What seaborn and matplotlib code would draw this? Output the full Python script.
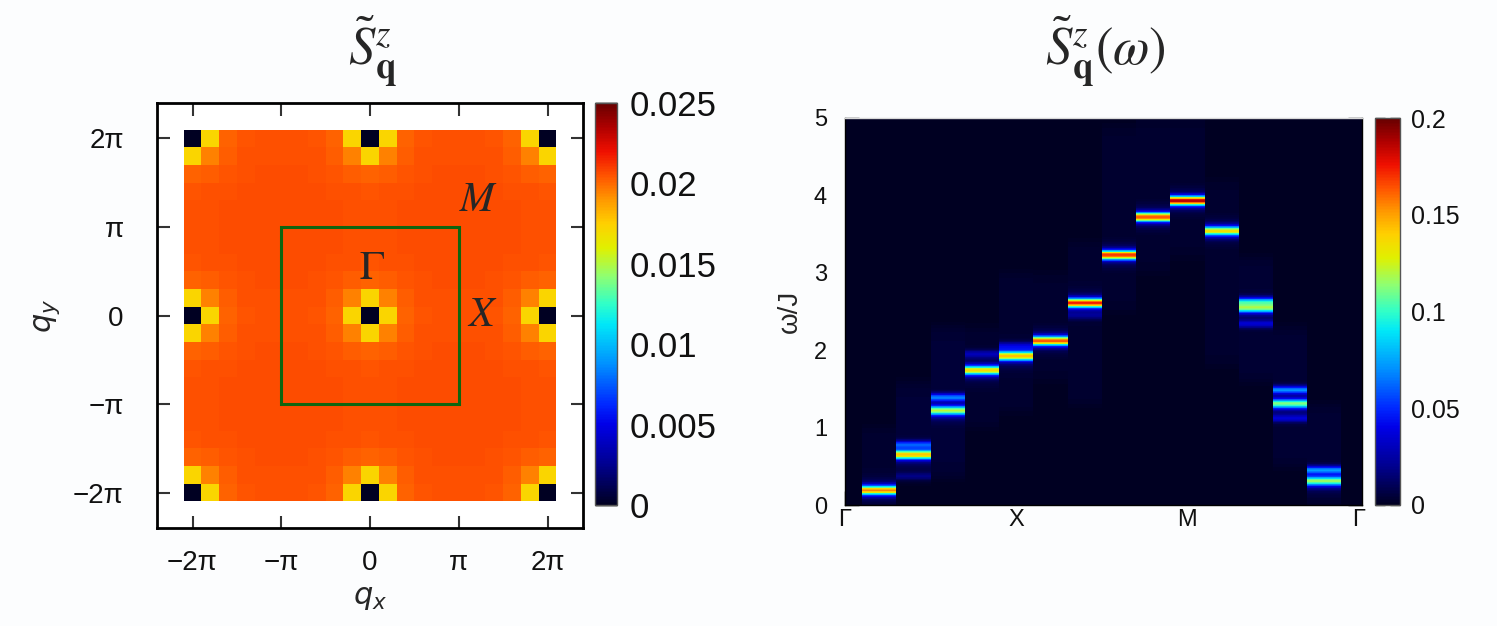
import numpy as np
import pandas as pd
import matplotlib
matplotlib.use("Agg")
import matplotlib.pyplot as plt
import seaborn as sns
from matplotlib.colors import LinearSegmentedColormap
from matplotlib.patches import Rectangle

sns.set_theme(style="white")
plt.rcParams["font.family"] = ["Liberation Sans", "DejaVu Sans"]
plt.rcParams["mathtext.fontset"] = "stix"

# ---------------- data: left panel (static structure factor) ----------------
# one irreducible quadrant (index = distance in units of pi/5 from nearest 2*pi*n point)
sq_quadrant = [
    [0.0,    0.0172, 0.0202, 0.0205, 0.0206, 0.0206],
    [0.0172, 0.0195, 0.0203, 0.0206, 0.0206, 0.0206],
    [0.0202, 0.0203, 0.0205, 0.0206, 0.0207, 0.0207],
    [0.0205, 0.0206, 0.0206, 0.0207, 0.0207, 0.0207],
    [0.0206, 0.0206, 0.0207, 0.0207, 0.0207, 0.0207],
    [0.0206, 0.0206, 0.0207, 0.0207, 0.0207, 0.0207],
]
q_cells = list(range(-10, 11))          # q = k*pi/5
q_tick_labels_x = ["\u22122\u03c0", "\u2212\u03c0", "0", "\u03c0", "2\u03c0"]
cbar_left_ticks = [0, 0.005, 0.01, 0.015, 0.02, 0.025]
cbar_left_labels = ["0", "0.005", "0.01", "0.015", "0.02", "0.025"]

# ---------------- data: right panel (dynamical structure factor) ----------------
path_index = list(range(16))
path_tick_index = [0, 5, 10, 15]
path_tick_labels = ["\u0393", "X", "M", "\u0393"]
main_q = list(range(1, 15))
main_omega = [0.19, 0.65, 1.22, 1.74, 1.925, 2.12, 2.61, 3.23, 3.72, 3.93, 3.54, 2.545, 1.31, 0.31]
main_weight = [0.135, 0.12, 0.10, 0.118, 0.122, 0.145, 0.153, 0.15, 0.145, 0.168, 0.115, 0.092, 0.09, 0.095]
sat_q = [2, 2, 3, 4, 5, 7, 12, 12, 13, 13, 14]
sat_omega = [0.78, 0.37, 1.39, 1.95, 2.05, 2.45, 2.63, 2.34, 1.486, 1.12, 0.452]
sat_weight = [0.05, 0.015, 0.06, 0.025, 0.03, 0.015, 0.07, 0.03, 0.065, 0.03, 0.065]
glow_lo = [0.0, 0.32, 0.36, 1.0, 1.2, 1.6, 1.3, 2.5, 3.0, 3.2, 1.8, 1.6, 0.5, 0.0]
glow_hi = [1.0, 1.58, 2.3, 2.3, 3.0, 3.0, 3.4, 4.9, 5.0, 5.0, 4.2, 3.2, 2.3, 1.3]
glow_level = [0.003, 0.004, 0.004, 0.003, 0.003, 0.0025, 0.003, 0.0025, 0.0025, 0.0025, 0.0025, 0.0035, 0.0035, 0.0035]
omega_ticks = [0, 1, 2, 3, 4, 5]
cbar_right_ticks = [0, 0.05, 0.1, 0.15, 0.2]
cbar_right_labels = ["0", "0.05", "0.1", "0.15", "0.2"]

# ---------------- colormap ----------------
cmap = LinearSegmentedColormap.from_list("gp", [
    (0.00, "#000022"), (0.10, "#000090"), (0.20, "#0000e8"), (0.25, "#0028ff"),
    (0.35, "#0090ff"), (0.45, "#00e8f8"), (0.50, "#30ffc8"), (0.57, "#90ff70"),
    (0.64, "#e0f000"), (0.70, "#ffd000"), (0.76, "#ff9800"), (0.82, "#ff5400"),
    (0.88, "#f01000"), (0.94, "#b00000"), (1.00, "#680000")])

fig = plt.figure(figsize=(14.97, 6.26), dpi=100, facecolor="#fcfdfe")

# ---------------- left panel ----------------
def red(k):
    m = k % 10
    return min(m, 10 - m)

grid = np.array([[sq_quadrant[red(ky)][red(kx)] for kx in q_cells] for ky in q_cells[::-1]])
dfL = pd.DataFrame(grid, index=q_cells[::-1], columns=q_cells)

axL = fig.add_axes([157 / 1497, 1 - 528 / 626, 426 / 1497, 425 / 626])
caxL = fig.add_axes([595 / 1497, 1 - 505 / 626, 22 / 1497, 402 / 626])
sns.heatmap(dfL, ax=axL, cbar_ax=caxL, cmap=cmap, vmin=0, vmax=0.025,
            xticklabels=False, yticklabels=False)
axL.set_facecolor("white")
axL.set_xlim(-1.5, 22.5)
axL.set_ylim(22.5, -1.5)
tick_pos = [0.5, 5.5, 10.5, 15.5, 20.5]
axL.set_xticks(tick_pos)
axL.set_xticklabels(q_tick_labels_x)
axL.set_yticks(tick_pos)
axL.set_yticklabels(q_tick_labels_x[::-1])
for s in axL.spines.values():
    s.set_visible(True)
    s.set_color("black")
    s.set_linewidth(2)
axL.tick_params(axis="both", direction="in", length=9, width=1.5, color="#333333",
                top=True, right=True, bottom=True, left=True, labelsize=20,
                labelcolor="#111111")
axL.tick_params(axis="x", pad=16)
axL.tick_params(axis="y", pad=24)
axL.set_xlabel(r"$q_x$", fontsize=22, math_fontfamily="dejavusans", labelpad=4)
axL.set_ylabel(r"$q_y$", fontsize=22, math_fontfamily="dejavusans", labelpad=8)
axL.add_patch(Rectangle((5.5, 5.5), 10, 10, fill=False, ec="#0f650f", lw=2.2, zorder=5))
axL.text(10.6, 7.8, r"$\Gamma$", fontsize=30, ha="center", va="center", zorder=6)
axL.text(16.6, 4.0, r"$M$", fontsize=30, ha="center", va="center", zorder=6)
axL.text(16.8, 10.5, r"$X$", fontsize=30, ha="center", va="center", zorder=6)

cbL = axL.collections[0].colorbar
cbL.set_ticks(cbar_left_ticks)
cbL.set_ticklabels(cbar_left_labels)
cbL.outline.set_visible(True)
cbL.outline.set_linewidth(1.0)
cbL.outline.set_edgecolor("#555555")
caxL.tick_params(axis="y", direction="in", left=True, right=True, length=16, width=1,
                 color="#222222", labelsize=25, pad=9, labelleft=False, labelright=True,
                 labelcolor="#111111")

# ---------------- right panel ----------------
Nw = 600
w_edges = np.linspace(0, 5, Nw + 1)
w_c = 0.5 * (w_edges[:-1] + w_edges[1:])
spec = np.zeros((Nw, len(path_index)))
for q, lo, hi, lv in zip(main_q, glow_lo, glow_hi, glow_level):
    spec[:, q] += lv * 0.5 * (np.tanh((w_c - lo) / 0.1) - np.tanh((w_c - hi) / 0.1))
for q, w0, a in zip(main_q, main_omega, main_weight):
    spec[:, q] += a * np.exp(-0.5 * ((w_c - w0) / 0.042) ** 2)
    spec[:, q] += 0.018 * np.exp(-0.5 * ((w_c - w0) / 0.09) ** 2)
for q, w0, a in zip(sat_q, sat_omega, sat_weight):
    spec[:, q] += a * np.exp(-0.5 * ((w_c - w0) / 0.036) ** 2)

dfR = pd.DataFrame(spec[::-1], index=np.round(w_c[::-1], 4), columns=path_index)
axR = fig.add_axes([845 / 1497, 1 - 505 / 626, 517 / 1497, 387 / 626])
caxR = fig.add_axes([1375 / 1497, 1 - 505 / 626, 25 / 1497, 387 / 626])
sns.heatmap(dfR, ax=axR, cbar_ax=caxR, cmap=cmap, vmin=0, vmax=0.2,
            xticklabels=False, yticklabels=False)
axR.set_xlim(0.5, 15.6)
axR.set_ylim(Nw, 0)
axR.set_yticks([(5 - w) * Nw / 5 for w in omega_ticks])
axR.set_yticklabels([str(w) for w in omega_ticks])
axR.set_xticks([i + 0.5 for i in path_tick_index])
axR.set_xticklabels(path_tick_labels)
for name, s in axR.spines.items():
    s.set_visible(True)
    s.set_linewidth(1)
    s.set_color("#d8d8d8" if name == "top" else "black")
axR.tick_params(axis="both", direction="in", length=10, width=1, color="black",
                left=True, right=True, bottom=True, top=False, labelsize=17,
                labelcolor="#111111")
axR.tick_params(axis="y", pad=13)
axR.tick_params(axis="x", pad=3)
axR.set_ylabel("\u03c9/J", fontsize=20, labelpad=8)

cbR = axR.collections[0].colorbar
cbR.set_ticks(cbar_right_ticks)
cbR.set_ticklabels(cbar_right_labels)
cbR.outline.set_visible(True)
cbR.outline.set_linewidth(1.0)
cbR.outline.set_edgecolor("#555555")
caxR.tick_params(axis="y", direction="in", left=True, right=True, length=7, width=1,
                 color="#222222", labelsize=18, pad=8, labelleft=False, labelright=True,
                 labelcolor="#111111")

# ---------------- titles ----------------
fig.text(372 / 1497, 1 - 52 / 626, r"$\tilde{S}^{z}_{\mathbf{q}}$", fontsize=38,
         ha="center", va="center")
fig.text(1105 / 1497, 1 - 52 / 626, r"$\tilde{S}^{z}_{\mathbf{q}}(\omega)$", fontsize=38,
         ha="center", va="center")

fig.savefig("out.png", dpi=100, facecolor=fig.get_facecolor())
